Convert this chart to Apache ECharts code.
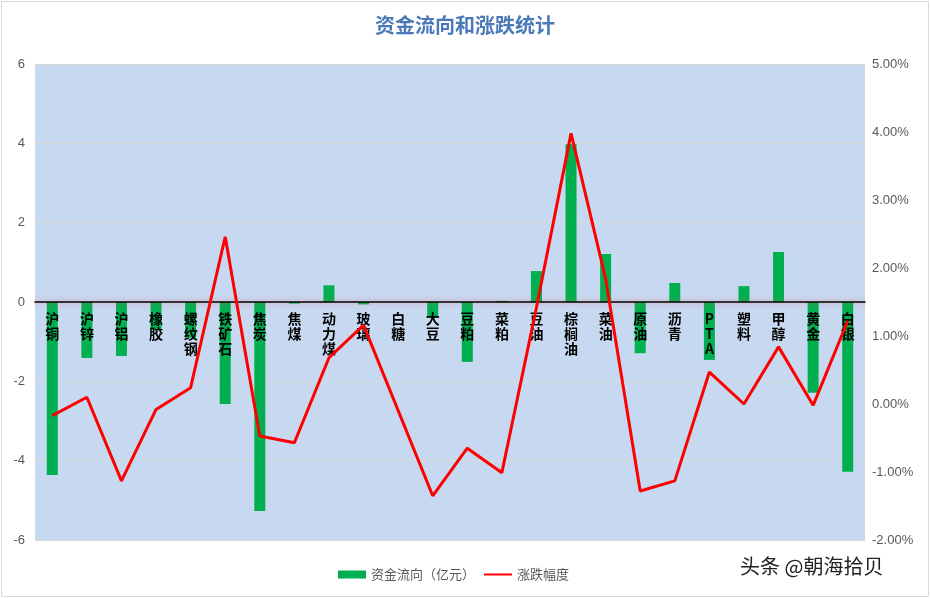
<!DOCTYPE html>
<html>
<head>
<meta charset="utf-8">
<script src="https://cdn.jsdelivr.net/npm/echarts@6/dist/echarts.min.js"></script>
<style>html,body{margin:0;padding:0;background:#fff;}#c{width:930px;height:598px;}</style>
</head>
<body>
<div id="c"></div>
<script>
const categories = ['沪铜','沪锌','沪铝','橡胶','螺纹钢','铁矿石','焦炭','焦煤','动力煤','玻璃','白糖','大豆','豆粕','菜粕','豆油','棕榈油','菜油','原油','沥青','PTA','塑料','甲醇','黄金','白银'];
const flow = [-4.36,-1.41,-1.36,-0.7,-0.9,-2.57,-5.27,-0.04,0.42,-0.06,0,-0.4,-1.51,0.03,0.78,3.98,1.21,-1.29,0.48,-1.46,0.4,1.26,-2.29,-4.28];
const change = [-0.17,0.1,-1.13,-0.08,0.24,2.46,-0.47,-0.57,0.68,1.16,null,-1.35,-0.65,-1.01,1.42,3.98,1.84,-1.28,-1.13,0.47,0,0.84,-0.02,1.22];
const leftTicks = {min:-6, max:6, interval:2};
const rightTicks = {min:-2, max:5, interval:1};
const names = ['资金流向（亿元）','涨跌幅度'];

const chart = echarts.init(document.getElementById('c'));
chart.setOption({
  animation:false,
  backgroundColor:'#fff',
  title:{text:'资金流向和涨跌统计', left:'center', top:10,
    textStyle:{fontFamily:'Noto Sans CJK SC', fontSize:20, fontWeight:'bold', color:'#4A78B8'}},
  graphic:[
    {type:'rect', shape:{x:1.5,y:1.5,width:927,height:595}, style:{fill:'none', stroke:'#d9d9d9', lineWidth:1}, silent:true, z:-1},
    {type:'text', left:740, top:556, style:{text:'头条 @朝海拾贝', font:'20px "Noto Sans CJK SC"', fill:'#222'}}
  ],
  legend:{data:[{name:names[0], icon:'rect'},{name:names[1], itemStyle:{opacity:0}}], left:333, top:563, itemGap:8,
    itemWidth:28, itemHeight:8,
    textStyle:{fontFamily:'Noto Sans CJK SC', fontSize:13, color:'#595959'}},
  grid:{left:35, right:65, top:64, bottom:58, show:true, backgroundColor:'#C6D9F1', borderWidth:0},
  xAxis:{type:'category', data:categories, z:3, position:'bottom', offset:-238,
    axisLine:{onZero:false, lineStyle:{color:'#000', width:1.5, shadowColor:'rgba(225,90,110,0.75)', shadowBlur:6}},
    axisTick:{show:false},
    axisLabel:{interval:0, margin:9, color:'#000', fontWeight:'bold', fontSize:14, lineHeight:15,
      fontFamily:'Noto Sans CJK SC',
      formatter:v=>v.split('').join('\n')}},
  yAxis:[
    {type:'value', min:leftTicks.min, max:leftTicks.max, interval:leftTicks.interval,
      axisLine:{show:false}, axisTick:{show:false},
      splitLine:{lineStyle:{color:'#d9d9d9', width:1}},
      axisLabel:{color:'#595959', fontSize:13, margin:10}},
    {type:'value', min:rightTicks.min, max:rightTicks.max, interval:rightTicks.interval,
      axisLine:{show:false}, axisTick:{show:false}, splitLine:{show:false},
      axisLabel:{color:'#595959', fontSize:13, margin:7, formatter:v=>v.toFixed(2)+'%'}}
  ],
  series:[
    {name:names[0], type:'bar', data:flow, yAxisIndex:0, barWidth:11, z:1,
      itemStyle:{color:'#00B050'}},
    {name:names[1], type:'line', data:change, yAxisIndex:1, connectNulls:true, z:5,
      symbol:'none', lineStyle:{color:'#FF0000', width:3}, itemStyle:{color:'#FF0000'}}
  ]
});
</script>
</body>
</html>
